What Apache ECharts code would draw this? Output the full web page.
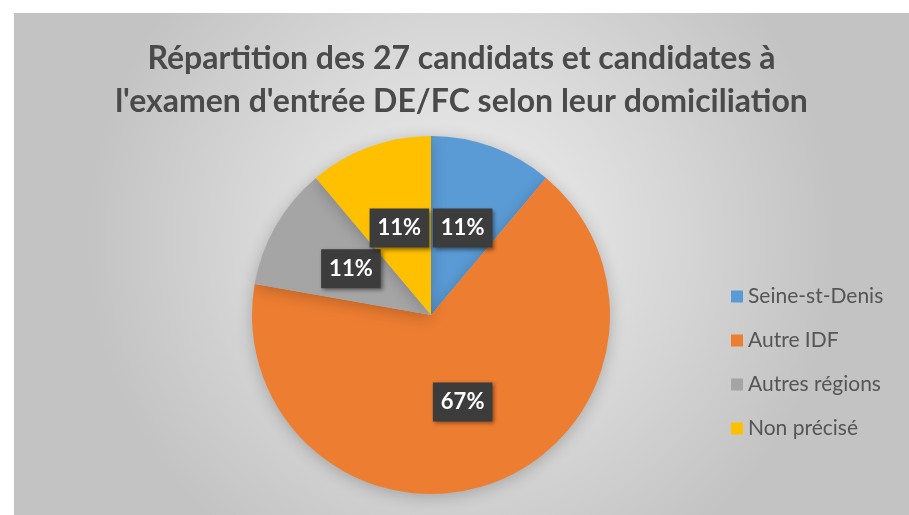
<!DOCTYPE html>
<html>
<head>
<meta charset="utf-8">
<script src="https://cdn.jsdelivr.net/npm/echarts@6/dist/echarts.min.js"></script>
<style>
  html, body { margin: 0; padding: 0; background: #fff; }
  #chart {
    position: absolute;
    left: 14px;
    top: 13px;
    width: 895px;
    height: 502px;
  }
</style>
</head>
<body>
<div id="chart"></div>
<script>
// données (27 candidats)
var titre = "Répartition des 27 candidats et candidates à\nl'examen d'entrée DE/FC selon leur domiciliation";
var categories = ['Seine-st-Denis', 'Autre IDF', 'Autres régions', 'Non précisé'];
var effectifs = [3, 18, 3, 3];
var couleurs = ['#5B9BD5', '#ED7D31', '#A5A5A5', '#FFC000'];

var pieData = [];
for (var i = 0; i < categories.length; i++) {
  pieData.push({ name: categories[i], value: effectifs[i] });
}

var myChart = echarts.init(document.getElementById('chart'));
var option = {
  backgroundColor: new echarts.graphic.RadialGradient(0.5, 0.45, 0.75, [
    { offset: 0, color: '#f0f0f0' },
    { offset: 1, color: '#c3c3c3' }
  ]),
  color: couleurs,
  title: {
    text: titre,
    left: 'center',
    top: 19,
    textStyle: {
      fontFamily: 'Lato',
      fontSize: 32,
      fontWeight: 'bold',
      color: '#4a4a4a',
      lineHeight: 43
    }
  },
  legend: {
    orient: 'vertical',
    left: 712,
    top: 268,
    itemWidth: 12,
    itemHeight: 12,
    itemGap: 23,
    icon: 'rect',
    data: categories,
    textStyle: {
      fontFamily: 'Lato',
      fontSize: 21,
      lineHeight: 20,
      color: '#555555'
    }
  },
  series: [
    {
      name: 'Domiciliation',
      type: 'pie',
      center: [417, 302],
      radius: 179,
      startAngle: 90,
      clockwise: true,
      animation: false,
      data: pieData,
      itemStyle: {
        shadowBlur: 16,
        shadowColor: 'rgba(0, 0, 0, 0.22)',
        shadowOffsetY: 3
      },
      label: {
        show: true,
        position: 'inside',
        formatter: function (p) { return Math.round(p.percent) + '%' },
        fontFamily: 'Lato',
        fontSize: 22,
        fontWeight: 'bold',
        color: '#ffffff',
        backgroundColor: '#3c3c3c',
        padding: [9, 8, 8, 8],
        shadowBlur: 4,
        shadowColor: 'rgba(0, 0, 0, 0.45)',
        shadowOffsetX: 2,
        shadowOffsetY: 2
      },
      labelLine: { show: false },
      emphasis: { scale: false }
    }
  ]
};
myChart.setOption(option);
</script>
</body>
</html>
